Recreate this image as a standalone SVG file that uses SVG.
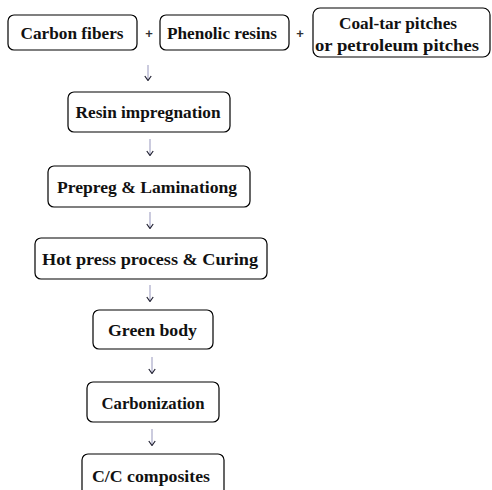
<svg xmlns="http://www.w3.org/2000/svg" width="492" height="490" viewBox="0 0 492 490">
<style>
.box{fill:#fff;stroke:#000;stroke-width:1.2}
.t{font-family:"Liberation Serif","DejaVu Serif",serif;font-size:16.5px;font-weight:bold;fill:#111;text-anchor:middle}
.plus{font-family:"Liberation Sans",sans-serif;font-size:13px;font-weight:bold;fill:#333;text-anchor:middle}
.shaft{stroke:#a8a8c8;stroke-width:1.2;fill:none}
</style>
<defs>
<marker id="ah" viewBox="0 0 8 8" refX="7" refY="4" markerWidth="8" markerHeight="8" markerUnits="userSpaceOnUse" orient="auto">
<path d="M3,0.8 L7.5,4 L3,7.2" fill="none" stroke="#223" stroke-width="1.2"/>
</marker>
</defs>
<rect width="492" height="490" fill="#fff"/>
<g id="carbon-fibers"><rect class="box" x="8" y="15" width="129" height="35" rx="6"/><text class="t" x="72" y="38.5" textLength="103" lengthAdjust="spacingAndGlyphs">Carbon fibers</text></g>
<g id="plus1"><text class="plus" x="149" y="38">+</text></g>
<g id="phenolic-resins"><rect class="box" x="160" y="15" width="129" height="35" rx="6"/><text class="t" x="222" y="38.5" textLength="110" lengthAdjust="spacingAndGlyphs">Phenolic resins</text></g>
<g id="plus2"><text class="plus" x="300" y="38">+</text></g>
<g id="pitches"><rect class="box" x="313" y="8" width="177" height="49" rx="7"/><text class="t" x="398" y="29" textLength="118" lengthAdjust="spacingAndGlyphs">Coal-tar pitches</text><text class="t" x="397" y="51" textLength="164" lengthAdjust="spacingAndGlyphs">or petroleum pitches</text></g>
<g id="resin-impregnation"><rect class="box" x="68" y="92" width="162" height="40" rx="6"/><text class="t" x="148" y="118" textLength="145" lengthAdjust="spacingAndGlyphs">Resin impregnation</text></g>
<g id="prepreg"><rect class="box" x="48" y="166" width="202" height="41" rx="6"/><text class="t" x="147" y="192.5" textLength="180" lengthAdjust="spacingAndGlyphs">Prepreg &amp; Laminationg</text></g>
<g id="hot-press"><rect class="box" x="35" y="238" width="232" height="41" rx="6"/><text class="t" x="150" y="264.5" textLength="216" lengthAdjust="spacingAndGlyphs">Hot press process &amp; Curing</text></g>
<g id="green-body"><rect class="box" x="93" y="310" width="120" height="39" rx="6"/><text class="t" x="152.5" y="335.5" textLength="89" lengthAdjust="spacingAndGlyphs">Green body</text></g>
<g id="carbonization"><rect class="box" x="87" y="382" width="132" height="40" rx="6"/><text class="t" x="153" y="408.5" textLength="103" lengthAdjust="spacingAndGlyphs">Carbonization</text></g>
<g id="cc-composites"><rect class="box" x="82" y="454" width="142" height="50" rx="6"/><text class="t" x="151" y="481.5" textLength="118" lengthAdjust="spacingAndGlyphs">C/C composites</text></g>
<g id="connectors">
<line class="shaft" x1="148" y1="65" x2="148" y2="80" marker-end="url(#ah)"/>
<line class="shaft" x1="150" y1="139" x2="150" y2="155" marker-end="url(#ah)"/>
<line class="shaft" x1="150" y1="212" x2="150" y2="228" marker-end="url(#ah)"/>
<line class="shaft" x1="150" y1="285" x2="150" y2="301" marker-end="url(#ah)"/>
<line class="shaft" x1="152" y1="357" x2="152" y2="373" marker-end="url(#ah)"/>
<line class="shaft" x1="152" y1="429" x2="152" y2="445" marker-end="url(#ah)"/>
</g>
</svg>
